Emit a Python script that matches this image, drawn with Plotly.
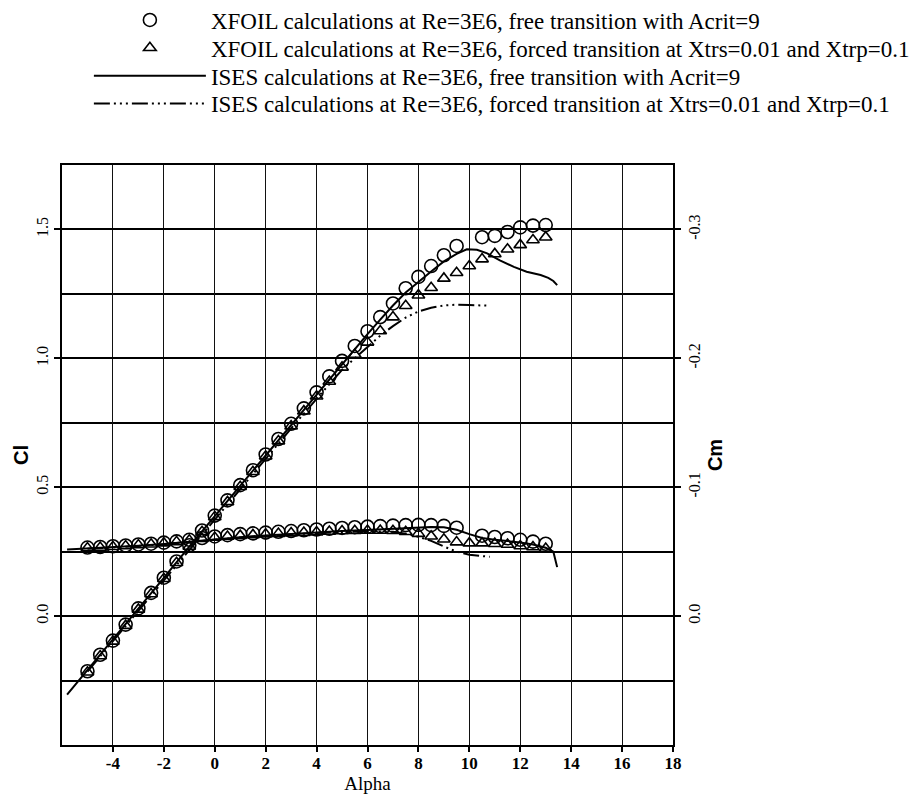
import plotly.graph_objects as go

# ---------------- data ----------------
# XFOIL, free transition (circles)
alpha_xf_free = [-5, -4.5, -4, -3.5, -3, -2.5, -2, -1.5, -1, -0.5, 0, 0.5, 1, 1.5, 2, 2.5, 3, 3.5,
                 4, 4.5, 5, 5.5, 6, 6.5, 7, 7.5, 8, 8.5, 9, 9.5, 10.5, 11, 11.5, 12, 12.5, 13]
cl_xf_free = [-0.214, -0.150, -0.095, -0.033, 0.030, 0.090, 0.149, 0.212, 0.275, 0.332, 0.390, 0.449,
              0.508, 0.566, 0.627, 0.687, 0.746, 0.806, 0.868, 0.930, 0.990, 1.048, 1.105, 1.160,
              1.213, 1.272, 1.316, 1.358, 1.400, 1.436, 1.470, 1.475, 1.490, 1.508, 1.515, 1.517]
cm_xf_free = [-0.0532, -0.0536, -0.0542, -0.0548, -0.0556, -0.0562, -0.0570, -0.0580, -0.0592, -0.0606,
              -0.0618, -0.0628, -0.0636, -0.0642, -0.0648, -0.0654, -0.0660, -0.0666, -0.0672, -0.0678,
              -0.0684, -0.0690, -0.0694, -0.0698, -0.0702, -0.0706, -0.0708, -0.0706, -0.0700, -0.0686,
              -0.0624, -0.0614, -0.0604, -0.0592, -0.0578, -0.0562]

# XFOIL, forced transition (triangles)
alpha_xf_forced = [-5, -4.5, -4, -3.5, -3, -2.5, -2, -1.5, -1, -0.5, 0, 0.5, 1, 1.5, 2, 2.5, 3, 3.5,
                   4, 4.5, 5, 5.5, 6, 6.5, 7, 7.5, 8, 8.5, 9, 9.5, 10, 10.5, 11, 11.5, 12, 12.5, 13]
cl_xf_forced = [-0.218, -0.155, -0.098, -0.037, 0.026, 0.086, 0.145, 0.207, 0.270, 0.327, 0.385, 0.443,
                0.502, 0.560, 0.620, 0.679, 0.737, 0.795, 0.853, 0.910, 0.965, 1.015, 1.062, 1.106,
                1.160, 1.204, 1.245, 1.274, 1.310, 1.332, 1.358, 1.385, 1.405, 1.423, 1.440, 1.459, 1.470]
cm_xf_forced = [-0.0528, -0.0532, -0.0538, -0.0544, -0.0552, -0.0558, -0.0566, -0.0576, -0.0588, -0.0600,
                -0.0610, -0.0618, -0.0624, -0.0630, -0.0636, -0.0640, -0.0644, -0.0648, -0.0652, -0.0656,
                -0.0660, -0.0662, -0.0664, -0.0664, -0.0662, -0.0654, -0.0640, -0.0620, -0.0596, -0.0574,
                -0.0566, -0.0566, -0.0562, -0.0556, -0.0544, -0.0536, -0.0524]

# ISES, free transition (solid line)
alpha_ises_free_cl = [-5.8, -5, -4, -3, -2, -1, 0, 1, 2, 3, 4, 5, 5.5, 6, 6.5, 7, 7.5, 8, 8.5, 9, 9.5,
                      9.9, 10.3, 10.7, 11.2, 11.75, 12.25, 12.8, 13.1, 13.3, 13.45]
cl_ises_free = [-0.305, -0.210, -0.093, 0.028, 0.148, 0.270, 0.388, 0.505, 0.624, 0.742, 0.862, 0.980,
                1.038, 1.094, 1.150, 1.205, 1.255, 1.297, 1.337, 1.376, 1.405, 1.423, 1.421, 1.407,
                1.380, 1.355, 1.336, 1.323, 1.312, 1.300, 1.284]
alpha_ises_free_cm = [-5.8, -5, -4, -3, -2, -1, 0, 1, 2, 3, 4, 5, 6, 7, 8, 8.5, 9, 9.5, 10, 10.5, 11,
                      11.5, 12, 12.5, 13, 13.3, 13.45]
cm_ises_free = [-0.0516, -0.0524, -0.0534, -0.0546, -0.0560, -0.0578, -0.0596, -0.0612, -0.0626, -0.0638,
                -0.0650, -0.0660, -0.0668, -0.0676, -0.0686, -0.0692, -0.0690, -0.0670, -0.0636, -0.0606,
                -0.0592, -0.0582, -0.0572, -0.0556, -0.0530, -0.0500, -0.0380]

# ISES, forced transition (dash-dot line)
alpha_ises_forced_cl = [-5, -4, -3, -2, -1, 0, 1, 2, 3, 4, 5, 5.5, 6, 6.5, 7, 7.5, 8, 8.5, 9, 9.5, 10,
                        10.5, 10.8]
cl_ises_forced = [-0.215, -0.097, 0.022, 0.141, 0.260, 0.378, 0.496, 0.612, 0.728, 0.843, 0.955, 1.000,
                  1.045, 1.088, 1.125, 1.158, 1.182, 1.196, 1.205, 1.208, 1.207, 1.205, 1.204]
alpha_ises_forced_cm = [-5, -4, -3, -2, -1, 0, 1, 2, 3, 4, 5, 6, 7, 7.5, 8, 8.5, 9, 9.5, 10, 10.5, 10.8]
cm_ises_forced = [-0.0522, -0.0532, -0.0544, -0.0558, -0.0576, -0.0594, -0.0610, -0.0622, -0.0634, -0.0644,
                  -0.0652, -0.0658, -0.0654, -0.0640, -0.0616, -0.0584, -0.0540, -0.0500, -0.0476, -0.0464,
                  -0.0460]

legend_names = [
    "XFOIL calculations at Re=3E6, free transition with Acrit=9",
    "XFOIL calculations at Re=3E6, forced transition at Xtrs=0.01 and Xtrp=0.1",
    "ISES calculations at Re=3E6, free transition with Acrit=9",
    "ISES calculations at Re=3E6, forced transition at Xtrs=0.01 and Xtrp=0.1",
]

x_tickvals = [-4, -2, 0, 2, 4, 6, 8, 10, 12, 14, 16, 18]
x_ticktext = ["-4", "-2", "0", "2", "4", "6", "8", "10", "12", "14", "16", "18"]
cl_tickvals = [0.0, 0.5, 1.0, 1.5]
cl_ticktext = ["0.0", "0.5", "1.0", "1.5"]
cm_tickvals = [0.0, -0.1, -0.2, -0.3]
cm_ticktext = ["0.0", "-0.1", "-0.2", "-0.3"]

# ---------------- figure ----------------
fig = go.Figure()

circle = dict(symbol="circle-open", size=13, color="black", line=dict(width=1.6, color="black"))
tri = dict(symbol="triangle-up-open", size=11, color="black", line=dict(width=1.6, color="black"))
dashdot = "16px,4px,2px,4px,2px,4px,2px,4px"

fig.add_trace(go.Scatter(x=alpha_xf_free, y=cl_xf_free, mode="markers", name=legend_names[0],
                         legendgroup="a", legend="legend", marker=circle))
fig.add_trace(go.Scatter(x=alpha_xf_free, y=cm_xf_free, mode="markers", name=legend_names[0],
                         legendgroup="a", showlegend=False, yaxis="y2", marker=circle))
fig.add_trace(go.Scatter(x=alpha_xf_forced, y=cl_xf_forced, mode="markers", name=legend_names[1],
                         legendgroup="b", legend="legend2", marker=tri))
fig.add_trace(go.Scatter(x=alpha_xf_forced, y=cm_xf_forced, mode="markers", name=legend_names[1],
                         legendgroup="b", showlegend=False, yaxis="y2", marker=tri))
fig.add_trace(go.Scatter(x=alpha_ises_free_cl, y=cl_ises_free, mode="lines", name=legend_names[2],
                         legendgroup="c", legend="legend3", line=dict(color="black", width=2)))
fig.add_trace(go.Scatter(x=alpha_ises_free_cm, y=cm_ises_free, mode="lines", name=legend_names[2],
                         legendgroup="c", showlegend=False, yaxis="y2", line=dict(color="black", width=2)))
fig.add_trace(go.Scatter(x=alpha_ises_forced_cl, y=cl_ises_forced, mode="lines", name=legend_names[3],
                         legendgroup="d", legend="legend4", line=dict(color="black", width=2, dash=dashdot)))
fig.add_trace(go.Scatter(x=alpha_ises_forced_cm, y=cm_ises_forced, mode="lines", name=legend_names[3],
                         legendgroup="d", showlegend=False, yaxis="y2",
                         line=dict(color="black", width=2, dash=dashdot)))

serif = "Liberation Serif"
sans = "Liberation Sans"


def legend_box(ypos):
    return dict(x=0.044, y=ypos, xanchor="left", yanchor="middle", bgcolor="rgba(0,0,0,0)",
                font=dict(family=serif, size=23, color="black"), itemwidth=112)


fig.update_layout(
    width=919, height=799,
    margin=dict(l=62, r=246, t=165, b=54, autoexpand=False),
    paper_bgcolor="white", plot_bgcolor="white",
    font=dict(family=serif, color="black", size=16),
    showlegend=True,
    legend=legend_box(1.250),
    legend2=legend_box(1.202),
    legend3=legend_box(1.154),
    legend4=legend_box(1.106),
    xaxis=dict(range=[-6, 18], tickvals=x_tickvals, ticktext=x_ticktext, automargin=False,
               ticks="outside", ticklen=5, tickwidth=1.5, tickcolor="black",
               tickfont=dict(family=serif, size=17, color="black", weight="bold"), ticklabelstandoff=-3,
               showgrid=True, gridcolor="#111", gridwidth=1.2,
               showline=True, linecolor="black", linewidth=2, mirror=True, zeroline=False,
               title=dict(text="Alpha", font=dict(family=serif, size=19, color="black"), standoff=0)),
    yaxis=dict(range=[-0.5, 1.75], tickvals=cl_tickvals, ticktext=cl_ticktext, tickangle=-90,
               automargin=False,
               ticks="outside", ticklen=6, tickwidth=1.5, tickcolor="black",
               tickfont=dict(family=serif, size=16, color="black"),
               showgrid=True, gridcolor="black", gridwidth=2,
               minor=dict(dtick=0.25, tick0=0, showgrid=True, gridcolor="black", gridwidth=2, ticks=""),
               showline=True, linecolor="black", linewidth=2, mirror=True, zeroline=False,
               title=dict(text="<b>Cl</b>", font=dict(family=sans, size=20, color="black"), standoff=0)),
    yaxis2=dict(range=[0.1, -0.35], overlaying="y", side="right", automargin=False,
                tickvals=cm_tickvals, ticktext=cm_ticktext, tickangle=-90,
                ticks="outside", ticklen=6, tickwidth=1.5, tickcolor="black",
                tickfont=dict(family=serif, size=16, color="black"),
                showgrid=False, zeroline=False, showline=True, linecolor="black", linewidth=2,
                title=dict(text="<b>Cm</b>", font=dict(family=sans, size=20, color="black"), standoff=6)),
)

fig.write_html("out.html", config={"displayModeBar": False},
               post_script="document.body.style.margin='0';")
